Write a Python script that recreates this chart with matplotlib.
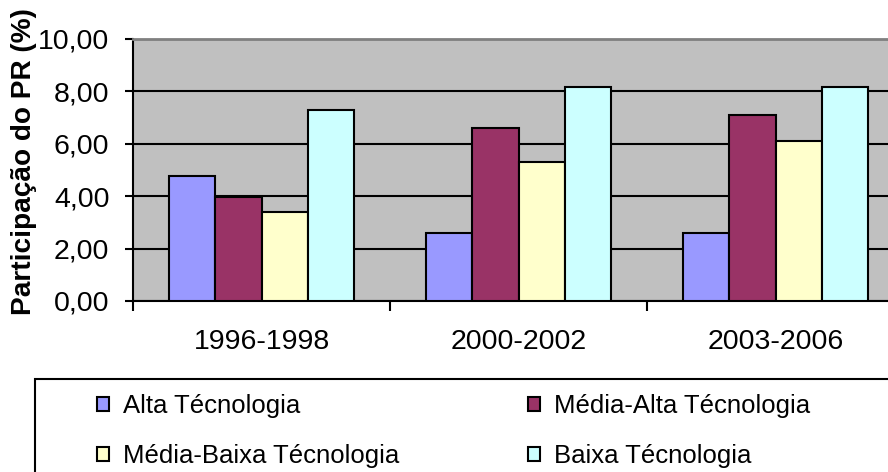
import matplotlib.pyplot as plt
import numpy as np
from matplotlib.patches import Rectangle
from matplotlib.ticker import FuncFormatter

plt.rcParams['font.family'] = ['Liberation Sans', 'DejaVu Sans']

periods = ['1996-1998', '2000-2002', '2003-2006']
series = ['Alta Técnologia', 'Média-Alta Técnologia',
          'Média-Baixa Técnologia', 'Baixa Técnologia']
alta = [4.77, 2.61, 2.61]
media_alta = [3.96, 6.62, 7.09]
media_baixa = [3.38, 5.32, 6.10]
baixa = [7.29, 8.16, 8.16]
colors = ['#9999FF', '#993366', '#FFFFCC', '#CCFFFF']

W, H = 888, 472
fig = plt.figure(figsize=(W/100, H/100), dpi=100)
# plot area runs past the right edge of the picture, like the original
ax = fig.add_axes([133/W, 1-301/H, 771/W, 262/H])
ax.set_facecolor('#C0C0C0')

x = np.arange(len(periods))
w = 0.179
bars = []
for i, (vals, c) in enumerate(zip([alta, media_alta, media_baixa, baixa], colors)):
    b = ax.bar(x + (i-1.5)*w, vals, w, color=c, edgecolor='black', linewidth=1.5,
               label=series[i], zorder=3)
    bars.append(b)

ax.set_xlim(-0.5, 2.5)
ax.set_ylim(0, 10)
ax.set_yticks(np.arange(0, 10.01, 2))
ax.yaxis.set_major_formatter(FuncFormatter(lambda v, p: f'{v:.2f}'.replace('.', ',')))
ax.yaxis.grid(True, color='black', linewidth=1.5, zorder=1)
ax.set_axisbelow(True)

ax.set_xticks([-0.5, 0.5, 1.5, 2.5])
ax.set_xticklabels([])
ax.set_xticks(x, minor=True)
ax.set_xticklabels(periods, minor=True)
ax.tick_params(axis='x', which='minor', length=0, pad=20, labelsize=20.5)
ax.tick_params(axis='x', which='major', length=7, width=1.5, direction='out')
ax.tick_params(axis='y', length=6, width=1.5, labelsize=20.5, pad=11)

ax.spines['right'].set_visible(False)
ax.spines['top'].set_color('#808080')
ax.spines['top'].set_linewidth(2)
ax.spines['left'].set_linewidth(1.5)
ax.spines['bottom'].set_linewidth(1.5)

fig.text(24/W, 1-162/H, 'Participação do PR (%)', rotation=90, fontsize=20.2,
         fontweight='bold', ha='center', va='center')

# legend frame (runs off the picture at right and bottom)
fig.patches.append(Rectangle((35/W, -0.1), 1.0, 1-379/H+0.1, transform=fig.transFigure,
                             facecolor='white', edgecolor='black', linewidth=1.5))
# matplotlib fills legend columns first, so reorder to read row by row
order = [0, 2, 1, 3]
fig.legend(handles=[bars[k] for k in order], labels=[series[k] for k in order],
           ncol=2, loc='upper left',
           bbox_to_anchor=(97/W, 1-394/H), frameon=False, fontsize=18.5,
           handlelength=0.47, handleheight=0.47, handletextpad=0.55,
           labelspacing=1.02, columnspacing=5.0, borderpad=0, borderaxespad=0)

fig.savefig('out.png', dpi=100)
